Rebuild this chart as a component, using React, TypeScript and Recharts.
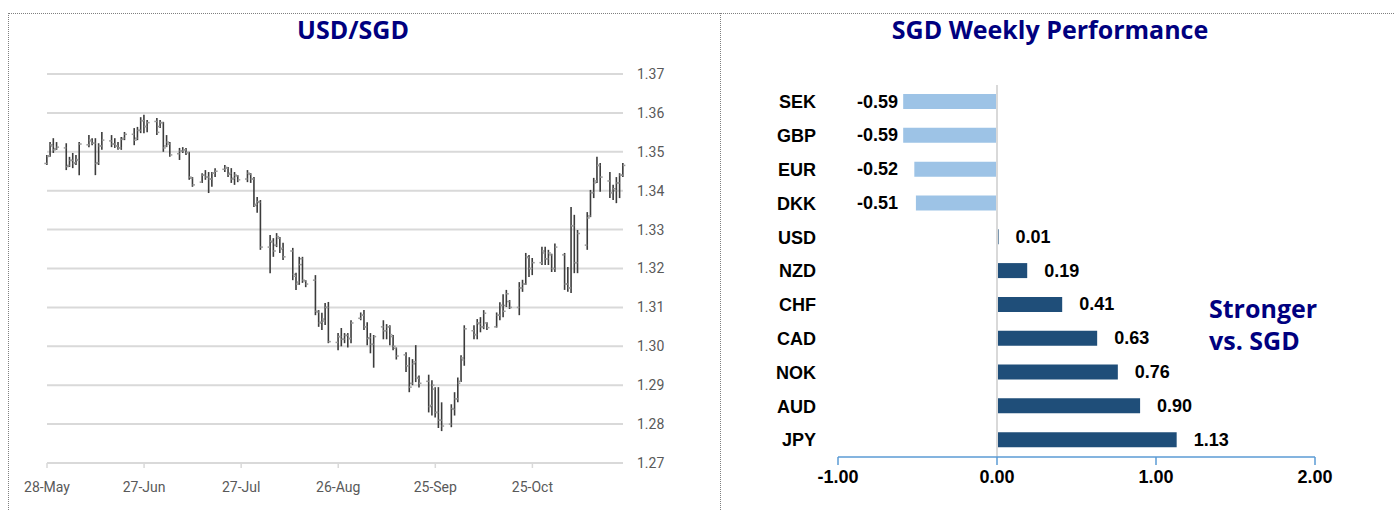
import React from 'react';
import {
  ComposedChart,
  BarChart,
  Bar,
  XAxis,
  YAxis,
  CartesianGrid,
  ReferenceLine,
  LabelList,
  Cell,
} from 'recharts';

// ---------- USD/SGD daily OHLC (day = calendar days since 28-May) ----------
const days = [
  0, 1, 2, 3,
  6, 7, 8, 9, 10,
  13, 14, 15, 16, 17,
  20, 21, 22, 23, 24,
  27, 28, 29, 30, 31,
  34, 35, 36, 37, 38,
  41, 42, 43, 44, 45,
  48, 49, 50, 51, 52,
  55, 56, 57, 58, 59,
  62, 63, 64, 65, 66,
  69, 70, 71, 72, 73,
  76, 77, 78, 79, 80,
  83, 84, 85, 86, 87,
  90, 91, 92, 93, 94,
  97, 98, 99, 100, 101,
  104, 105, 106, 107, 108,
  111, 112, 113, 114, 115,
  118, 119, 120, 121, 122,
  125, 126, 127, 128, 129,
  132, 133, 134, 135, 136,
  139, 140, 141, 142, 143,
  146, 147, 148, 149, 150,
  153, 154, 155, 156, 157,
  160, 161, 162, 163, 164,
  167, 168, 169, 170, 171,
  174, 175, 176, 177, 178,
];

const highs = [
  1.3492, 1.3525, 1.3535, 1.3525,
  1.3522, 1.3487, 1.3497, 1.3492, 1.3525,
  1.3543, 1.3535, 1.3535, 1.3522, 1.3551,
  1.3543, 1.3535, 1.3525, 1.3538, 1.3551,
  1.3561, 1.3564, 1.3589, 1.3595, 1.3582,
  1.3587, 1.3582, 1.3577, 1.3543, 1.3525,
  1.3510, 1.3512, 1.3510, 1.3500, 1.3435,
  1.3445, 1.3453, 1.3448, 1.3448, 1.3458,
  1.3466, 1.3461, 1.3458, 1.3448, 1.3440,
  1.3453, 1.3445, 1.3435, 1.3384, 1.3376,
  1.3286, 1.3278, 1.3291, 1.3281, 1.3266,
  1.3253, 1.3189, 1.3230, 1.3230, 1.3170,
  1.3183, 1.3093, 1.3086, 1.3111, 1.3114,
  1.3034, 1.3047, 1.3034, 1.3034, 1.3067,
  1.3087, 1.3093, 1.3062, 1.3034, 1.3029,
  1.3067, 1.3057, 1.3054, 1.3029, 1.2997,
  1.2985, 1.2972, 1.2967, 1.3003, 1.2925,
  1.2927, 1.2913, 1.2895, 1.2895, 1.2856,
  1.2851, 1.2882, 1.2920, 1.2977, 1.3054,
  1.3054, 1.3070, 1.3075, 1.3093, 1.3062,
  1.3087, 1.3113, 1.3134, 1.3145, 1.3119,
  1.3165, 1.3171, 1.3240, 1.3235, 1.3227,
  1.3256, 1.3256, 1.3248, 1.3238, 1.3264,
  1.3240, 1.3204, 1.3358, 1.3338, 1.3299,
  1.3345, 1.3402, 1.3433, 1.3487, 1.3471,
  1.3448, 1.3415, 1.3435, 1.3445, 1.3471,
];

const lows = [
  1.3466, 1.3487, 1.3497, 1.3505,
  1.3453, 1.3461, 1.3458, 1.3466, 1.3440,
  1.3512, 1.3517, 1.3440, 1.3466, 1.3505,
  1.3512, 1.3510, 1.3505, 1.3505, 1.3530,
  1.3517, 1.3530, 1.3548, 1.3548, 1.3550,
  1.3543, 1.3561, 1.3500, 1.3512, 1.3487,
  1.3479, 1.3497, 1.3492, 1.3428, 1.3410,
  1.3420, 1.3428, 1.3394, 1.3410, 1.3435,
  1.3448, 1.3435, 1.3420, 1.3415, 1.3422,
  1.3422, 1.3420, 1.3358, 1.3343, 1.3248,
  1.3188, 1.3230, 1.3255, 1.3240, 1.3222,
  1.3170, 1.3145, 1.3158, 1.3163, 1.3152,
  1.3080, 1.3050, 1.3042, 1.3055, 1.3008,
  1.2990, 1.3000, 1.3008, 1.2997, 1.3008,
  1.3067, 1.3042, 1.3003, 1.2982, 1.2945,
  1.3018, 1.3018, 1.3003, 1.2990, 1.2966,
  1.2934, 1.2882, 1.2900, 1.2908, 1.2894,
  1.2830, 1.2822, 1.2817, 1.2790, 1.2782,
  1.2792, 1.2822, 1.2856, 1.2908, 1.2950,
  1.3018, 1.3018, 1.3036, 1.3044, 1.3042,
  1.3048, 1.3067, 1.3075, 1.3101, 1.3096,
  1.3080, 1.3140, 1.3158, 1.3178, 1.3183,
  1.3209, 1.3209, 1.3209, 1.3191, 1.3191,
  1.3145, 1.3140, 1.3137, 1.3188, 1.3188,
  1.3248, 1.3332, 1.3381, 1.3420, 1.3397,
  1.3381, 1.3376, 1.3368, 1.3381, 1.3435,
];

const opens = [
  1.3470, 1.3490, 1.3515, 1.3508,
  1.3510, 1.3465, 1.3478, 1.3472, 1.3478,
  1.3518, 1.3528, 1.3522, 1.3472, 1.3515,
  1.3528, 1.3520, 1.3515, 1.3510, 1.3535,
  1.3545, 1.3535, 1.3555, 1.3580, 1.3565,
  1.3578, 1.3565, 1.3575, 1.3515, 1.3520,
  1.3495, 1.3502, 1.3505, 1.3498, 1.3432,
  1.3422, 1.3440, 1.3435, 1.3430, 1.3445,
  1.3455, 1.3458, 1.3445, 1.3432, 1.3438,
  1.3430, 1.3442, 1.3430, 1.3365, 1.3370,
  1.3255, 1.3268, 1.3260, 1.3278, 1.3252,
  1.3245, 1.3180, 1.3165, 1.3225, 1.3168,
  1.3170, 1.3088, 1.3062, 1.3065, 1.3100,
  1.3010, 1.3025, 1.3018, 1.3028, 1.3020,
  1.3072, 1.3080, 1.3050, 1.3022, 1.3005,
  1.3050, 1.3040, 1.3050, 1.3025, 1.2995,
  1.2978, 1.2950, 1.2905, 1.2960, 1.2918,
  1.2910, 1.2848, 1.2890, 1.2830, 1.2810,
  1.2800, 1.2838, 1.2865, 1.2910, 1.2965,
  1.3040, 1.3030, 1.3058, 1.3050, 1.3060,
  1.3050, 1.3080, 1.3105, 1.3105, 1.3115,
  1.3100, 1.3150, 1.3160, 1.3228, 1.3200,
  1.3215, 1.3240, 1.3225, 1.3235, 1.3200,
  1.3235, 1.3160, 1.3150, 1.3310, 1.3215,
  1.3260, 1.3335, 1.3395, 1.3425, 1.3465,
  1.3425, 1.3395, 1.3400, 1.3420, 1.3440,
];

const closes = [
  1.3488, 1.3518, 1.3505, 1.3512,
  1.3462, 1.3478, 1.3470, 1.3480, 1.3520,
  1.3530, 1.3522, 1.3470, 1.3515, 1.3530,
  1.3520, 1.3515, 1.3510, 1.3532, 1.3545,
  1.3530, 1.3555, 1.3580, 1.3565, 1.3575,
  1.3550, 1.3575, 1.3510, 1.3525, 1.3492,
  1.3502, 1.3505, 1.3498, 1.3435, 1.3415,
  1.3440, 1.3435, 1.3430, 1.3445, 1.3450,
  1.3460, 1.3442, 1.3430, 1.3440, 1.3428,
  1.3445, 1.3430, 1.3362, 1.3372, 1.3255,
  1.3270, 1.3245, 1.3282, 1.3250, 1.3230,
  1.3185, 1.3160, 1.3210, 1.3170, 1.3160,
  1.3090, 1.3060, 1.3070, 1.3100, 1.3012,
  1.3025, 1.3018, 1.3028, 1.3020, 1.3060,
  1.3080, 1.3050, 1.3020, 1.3005, 1.3025,
  1.3040, 1.3050, 1.3030, 1.3000, 1.2975,
  1.2950, 1.2895, 1.2955, 1.2920, 1.2905,
  1.2845, 1.2900, 1.2830, 1.2810, 1.2795,
  1.2840, 1.2865, 1.2905, 1.2970, 1.3045,
  1.3030, 1.3060, 1.3050, 1.3085, 1.3048,
  1.3080, 1.3105, 1.3090, 1.3135, 1.3100,
  1.3150, 1.3160, 1.3230, 1.3200, 1.3215,
  1.3245, 1.3225, 1.3240, 1.3200, 1.3255,
  1.3160, 1.3150, 1.3310, 1.3215, 1.3290,
  1.3330, 1.3395, 1.3420, 1.3465, 1.3435,
  1.3395, 1.3405, 1.3420, 1.3440, 1.3465,
];

const xTickDays = [0, 30, 60, 90, 120, 150];
const xTickLabels = ['28-May', '27-Jun', '27-Jul', '26-Aug', '25-Sep', '25-Oct'];
const yTicks = [1.27, 1.28, 1.29, 1.3, 1.31, 1.32, 1.33, 1.34, 1.35, 1.36, 1.37];

// ---------- SGD weekly performance ----------
const currencies = ['SEK', 'GBP', 'EUR', 'DKK', 'USD', 'NZD', 'CHF', 'CAD', 'NOK', 'AUD', 'JPY'];
const performance = [-0.59, -0.59, -0.52, -0.51, 0.01, 0.19, 0.41, 0.63, 0.76, 0.9, 1.13];
const perfTicks = [-1, 0, 1, 2];

const ohlcData = days.map((d, i) => ({
  day: d,
  open: opens[i],
  high: highs[i],
  low: lows[i],
  close: closes[i],
  range: [lows[i], highs[i]],
}));

const perfData = currencies.map((c, i) => ({ ccy: c, value: performance[i] }));

const NAVY = '#00007f';
const AXIS_GREY = '#595959';

const OhlcShape = (props: any) => {
  const { x, y, width, height, payload } = props;
  if (x == null || y == null || !payload) return null;
  const cx = x + width / 2;
  const span = payload.high - payload.low;
  const yOpen = span > 0 ? y + (height * (payload.high - payload.open)) / span : y;
  const yClose = span > 0 ? y + (height * (payload.high - payload.close)) / span : y;
  return (
    <g>
      <line x1={cx} x2={cx} y1={y} y2={y + Math.max(height, 1)} stroke="#3c3c3c" strokeWidth={1.6} />
      <line x1={cx - 2.5} x2={cx} y1={yOpen} y2={yOpen} stroke="#9a9a9a" strokeWidth={1.5} />
      <line x1={cx} x2={cx + 2.5} y1={yClose} y2={yClose} stroke="#9a9a9a" strokeWidth={1.5} />
    </g>
  );
};

const PerfLabel = (props: any) => {
  const vb = props.viewBox || {};
  const x = props.x != null ? props.x : vb.x;
  const y = props.y != null ? props.y : vb.y;
  const width = props.width != null ? props.width : vb.width;
  const height = props.height != null ? props.height : vb.height;
  const value = props.value;
  if (x == null || value == null) return null;
  const left = Math.min(x, x + width);
  const right = Math.max(x, x + width);
  const neg = value < 0;
  // negative labels sit in a common column left of the bars, anchored to the zero baseline
  return (
    <text
      x={neg ? right - 99 : right + 17}
      y={y + height / 2}
      textAnchor={neg ? 'end' : 'start'}
      dominantBaseline="central"
      fontFamily="'Liberation Sans', Arial, sans-serif"
      fontWeight="bold"
      fontSize={18}
      fill="#000"
    >
      {Number(value).toFixed(2)}
    </text>
  );
};

const dottedH = (left: number, top: number, width: number) => (
  <div
    style={{
      position: 'absolute',
      left,
      top,
      width,
      height: 0,
      borderTop: '1px dotted #7f7f7f',
    }}
  />
);
const dottedV = (left: number, top: number, height: number) => (
  <div
    style={{
      position: 'absolute',
      left,
      top,
      width: 0,
      height,
      borderLeft: '1px dotted #7f7f7f',
    }}
  />
);

export default function App() {
  return (
    <div
      style={{
        position: 'absolute',
        left: 0,
        top: 0,
        width: 1394,
        height: 510,
        background: '#fff',
        overflow: 'hidden',
        fontFamily: "Roboto, 'Liberation Sans', sans-serif",
      }}
    >
      {dottedH(8, 13, 1386)}
      {dottedV(8, 13, 497)}
      {dottedV(720, 13, 497)}

      <div
        style={{
          position: 'absolute',
          left: 353,
          top: 12,
          transform: 'translateX(-50%)',
          fontFamily: "'Open Sans', sans-serif",
          fontWeight: 700,
          fontSize: 25,
          color: NAVY,
          whiteSpace: 'nowrap',
          lineHeight: '34px',
        }}
      >
        USD/SGD
      </div>
      <div
        style={{
          position: 'absolute',
          left: 1050,
          top: 12,
          transform: 'translateX(-50%)',
          fontFamily: "'Open Sans', sans-serif",
          fontWeight: 700,
          fontSize: 25,
          color: NAVY,
          whiteSpace: 'nowrap',
          lineHeight: '34px',
        }}
      >
        SGD Weekly Performance
      </div>

      {/* Left: USD/SGD OHLC */}
      <div style={{ position: 'absolute', left: 0, top: 0 }}>
        <ComposedChart
          width={720}
          height={510}
          data={ohlcData}
          margin={{ top: 74, right: 37, left: 47, bottom: 17 }}
        >
          <CartesianGrid horizontal vertical={false} stroke="#d9d9d9" strokeWidth={2} />
          <XAxis
            dataKey="day"
            type="number"
            domain={[0, 178]}
            ticks={xTickDays}
            tickFormatter={(v: number) => xTickLabels[xTickDays.indexOf(v)] ?? ''}
            axisLine={{ stroke: '#d9d9d9', strokeWidth: 2 }}
            tickLine={{ stroke: '#d9d9d9', strokeWidth: 1.5 }}
            tickSize={5}
            tickMargin={14}
            height={30}
            tick={{ fill: AXIS_GREY, fontSize: 14, fontFamily: 'Roboto, sans-serif' }}
            interval={0}
          />
          <YAxis
            orientation="right"
            type="number"
            domain={[1.27, 1.37]}
            ticks={yTicks}
            tickFormatter={(v: number) => v.toFixed(2)}
            axisLine={false}
            tickLine={false}
            tickSize={6}
            tickMargin={8}
            width={60}
            interval={0}
            tick={{ fill: AXIS_GREY, fontSize: 14, fontFamily: 'Roboto, sans-serif' }}
          />
          <Bar dataKey="range" barSize={4} shape={<OhlcShape />} isAnimationActive={false} />
        </ComposedChart>
      </div>

      {/* Right: SGD weekly performance */}
      <div style={{ position: 'absolute', left: 720, top: 0 }}>
        <BarChart
          width={674}
          height={510}
          data={perfData}
          layout="vertical"
          margin={{ top: 85, right: 79, left: 0, bottom: 13 }}
          barCategoryGap={0}
        >
          <XAxis
            type="number"
            domain={[-1, 2]}
            ticks={perfTicks}
            tickFormatter={(v: number) => v.toFixed(2)}
            axisLine={{ stroke: '#5b9bd5', strokeWidth: 1.5 }}
            tickLine={{ stroke: '#5b9bd5', strokeWidth: 1.5 }}
            tickSize={8}
            tickMargin={5}
            height={40}
            interval={0}
            tick={{ fill: '#000', fontSize: 18, fontWeight: 'bold', fontFamily: "'Liberation Sans', Arial, sans-serif" }}
          />
          <YAxis
            type="category"
            dataKey="ccy"
            axisLine={false}
            tickLine={false}
            tickSize={6}
            tickMargin={16}
            width={118}
            interval={0}
            tick={{ fill: '#000', fontSize: 18, fontWeight: 'bold', fontFamily: "'Liberation Sans', Arial, sans-serif" }}
          />
          <ReferenceLine x={0} stroke="#d9d9d9" strokeWidth={2} />
          <Bar dataKey="value" barSize={15} isAnimationActive={false}>
            {perfData.map((d, i) => (
              <Cell key={i} fill={d.value < 0 ? '#9dc3e6' : '#1f4e79'} />
            ))}
            <LabelList dataKey="value" content={<PerfLabel />} />
          </Bar>
        </BarChart>
      </div>

      <div
        style={{
          position: 'absolute',
          left: 1209,
          top: 292,
          fontFamily: "'Open Sans', sans-serif",
          fontWeight: 700,
          fontSize: 25,
          lineHeight: '32px',
          color: NAVY,
          whiteSpace: 'nowrap',
        }}
      >
        Stronger
        <br />
        vs. SGD
      </div>
    </div>
  );
}
